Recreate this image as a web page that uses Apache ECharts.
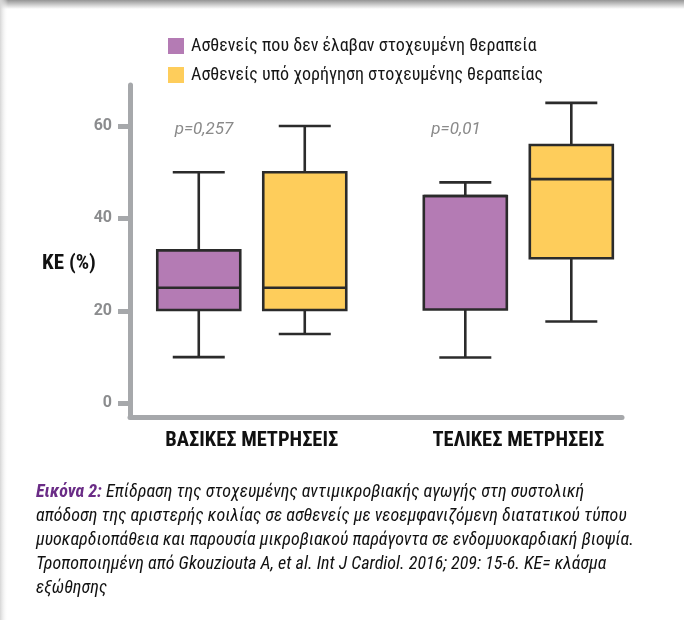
<!DOCTYPE html>
<html><head><meta charset="utf-8">
<script src="https://cdn.jsdelivr.net/npm/echarts@6/dist/echarts.min.js"></script>
<style>html,body{margin:0;padding:0;background:#fff}#c{width:684px;height:620px}</style>
</head><body><div id="c"></div>
<script>
const categories = ['ΒΑΣΙΚΕΣ ΜΕΤΡΗΣΕΙΣ', 'ΤΕΛΙΚΕΣ ΜΕΤΡΗΣΕΙΣ'];
const seriesNames = ['Ασθενείς που δεν έλαβαν στοχευμένη θεραπεία', 'Ασθενείς υπό χορήγηση στοχευμένης θεραπείας'];
// [min, Q1, median, Q3, max]
const untreated = [[10, 20.2, 25, 33.1, 50], [9.9, 20.3, 44.85, 44.85, 47.8]];
const treated = [[15, 20.2, 25, 50, 60], [17.7, 31.4, 48.5, 55.9, 65]];
const pValues = ['p=0,257', 'p=0,01'];
const yTicks = [0, 20, 40, 60];

const FONT = "Roboto, 'Liberation Sans', sans-serif";
const GRAY = '#a6a8ab';
const BOX_W = 83, CAP_W = 52, OFF = 53;

function rows(arr) { return arr.map((d, i) => [i].concat(d)); }

function makeRender(offset) {
  return function (params, api) {
    const x = api.value(0);
    const vmin = api.value(1), q1 = api.value(2), med = api.value(3), q3 = api.value(4), vmax = api.value(5);
    const cx = api.coord([x, med])[0] + offset;
    const y = v => api.coord([x, v])[1];
    const hw = BOX_W / 2, cw = CAP_W / 2;
    const st = { stroke: '#2b2b2b', lineWidth: 2.6 };
    return { type: 'group', children: [
      { type: 'line', shape: { x1: cx, y1: y(vmax), x2: cx, y2: y(q3) }, style: st },
      { type: 'line', shape: { x1: cx, y1: y(q1), x2: cx, y2: y(vmin) }, style: st },
      { type: 'line', shape: { x1: cx - cw, y1: y(vmax), x2: cx + cw, y2: y(vmax) }, style: st },
      { type: 'line', shape: { x1: cx - cw, y1: y(vmin), x2: cx + cw, y2: y(vmin) }, style: st },
      { type: 'rect', shape: { x: cx - hw, y: y(q3), width: BOX_W, height: y(q1) - y(q3) },
        style: { fill: api.visual('color'), stroke: '#2b2b2b', lineWidth: 2.6 } },
      { type: 'line', shape: { x1: cx - hw, y1: y(med), x2: cx + hw, y2: y(med) }, style: st }
    ]};
  };
}

const chart = echarts.init(document.getElementById('c'), null, { renderer: 'canvas' });
chart.setOption({
  animation: false,
  backgroundColor: '#fff',
  grid: { left: 130, right: 62, top: 85, bottom: 203, containLabel: false },
  legend: {
    orient: 'vertical', left: 163, top: 32, itemWidth: 16, itemHeight: 16, itemGap: 11,
    icon: 'rect',
    textStyle: { fontFamily: FONT, fontWeight: 'normal condensed', fontSize: 18, color: '#161616', padding: [0, 0, 0, 2] },
    data: seriesNames
  },
  xAxis: {
    type: 'value', min: -0.4568, max: 1.389,
    axisLine: { onZero: false, lineStyle: { color: GRAY, width: 5 } },
    axisTick: { show: false }, splitLine: { show: false },
    axisLabel: {
      customValues: [0, 1], margin: 13,
      formatter: v => categories[Math.round(v)] || '',
      fontFamily: FONT, fontWeight: 'bold condensed', fontSize: 20.5, color: '#111'
    }
  },
  yAxis: {
    type: 'value', min: -2.96, max: 68.87,
    axisLine: { show: true, onZero: false, lineStyle: { color: GRAY, width: 5 } },
    axisTick: { show: true, customValues: yTicks, length: 12, lineStyle: { color: GRAY, width: 5 } },
    splitLine: { show: false },
    axisLabel: { customValues: yTicks, margin: 18, fontFamily: FONT, fontWeight: 'bold', fontSize: 16, color: '#8b8c8e' }
  },
  series: [
    { name: seriesNames[0], type: 'custom', renderItem: makeRender(-OFF), itemStyle: { color: '#b47bb4' },
      encode: { x: 0, y: [1, 2, 3, 4, 5] }, data: rows(untreated) },
    { name: seriesNames[1], type: 'custom', renderItem: makeRender(OFF), itemStyle: { color: '#fecd5b' },
      encode: { x: 0, y: [1, 2, 3, 4, 5] }, data: rows(treated) }
  ],
  graphic: [
    { type: 'rect', left: 0, top: 0, z: -1, shape: { width: 684, height: 9 },
      style: { fill: new echarts.graphic.LinearGradient(0, 0, 0, 1, [{ offset: 0, color: '#959595' }, { offset: 1, color: '#ffffff' }]) } },
    { type: 'rect', left: 0, top: 0, z: -1, shape: { width: 8, height: 620 },
      style: { fill: new echarts.graphic.LinearGradient(0, 0, 1, 0, [{ offset: 0, color: '#d6d6d6' }, { offset: 1, color: 'rgba(255,255,255,0)' }]) } },
    { type: 'text', x: 69, y: 264, style: { text: 'KE (%)', fontFamily: FONT, fontWeight: 'bold condensed', fontSize: 21, fill: '#111', align: 'center', verticalAlign: 'middle' } },
    { type: 'text', x: 204, y: 130, style: { text: pValues[0], fontFamily: FONT, fontStyle: 'italic', fontSize: 17, fill: '#8a8a8a', align: 'center', verticalAlign: 'middle' } },
    { type: 'text', x: 456, y: 130, style: { text: pValues[1], fontFamily: FONT, fontStyle: 'italic', fontSize: 17, fill: '#8a8a8a', align: 'center', verticalAlign: 'middle' } },
    { type: 'text', x: 36, y: 480, style: {
      text: '{b|Εικόνα 2:} Επίδραση της στοχευμένης αντιμικροβιακής αγωγής στη συστολική\nαπόδοση της αριστερής κοιλίας σε ασθενείς με νεοεμφανιζόμενη διατατικού τύπου\nμυοκαρδιοπάθεια και παρουσία μικροβιακού παράγοντα σε ενδομυοκαρδιακή βιοψία.\nΤροποποιημένη από Gkouziouta A, et al. Int J Cardiol. 2016; 209: 15-6. KE= κλάσμα\nεξώθησης',
      fontFamily: FONT, fontStyle: 'italic', fontWeight: 'normal condensed', fontSize: 18, lineHeight: 24, fill: '#111',
      rich: { b: { fontFamily: FONT, fontStyle: 'italic', fontWeight: 'bold condensed', fontSize: 18, lineHeight: 24, fill: '#6a2c86' } }
    } }
  ]
});
</script></body></html>
